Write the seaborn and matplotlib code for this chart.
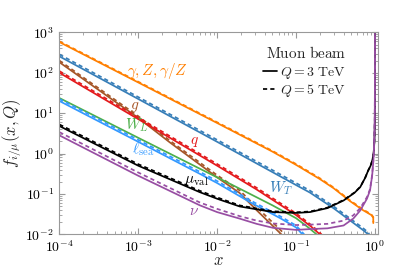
import matplotlib
matplotlib.use("Agg")
import matplotlib.pyplot as plt
from matplotlib.lines import Line2D
import seaborn as sns

# --- values (x, f for Q = 3 TeV solid, Q = 5 TeV dashed) ---
x_gam = [1e-4, 1e-3, 1e-2, 0.05, 0.1, 0.2, 0.3, 0.48, 0.7, 0.9, 0.95, 0.952]
f_gam_3 = [575, 57.5, 5.7, 1.12, 0.525, 0.234, 0.138, 0.067, 0.040, 0.030, 0.0259, 0.019]
f_gam_5 = [600, 60, 5.95, 1.17, 0.55, 0.245, 0.144, 0.070, 0.042, 0.031, 0.027, 0.020]

x_wt = [1e-4, 1e-3, 1e-2, 0.1, 0.15, 0.3, 0.5, 0.7, 0.82, 0.9]
f_wt_3 = [255, 22.4, 1.95, 0.166, 0.108, 0.044, 0.021, 0.0129, 0.0100, 0.0071]
f_wt_5 = [285, 25, 2.18, 0.186, 0.121, 0.049, 0.0235, 0.0144, 0.0112, 0.0079]

x_g = [1e-4, 1e-3, 2.5e-3, 1e-2, 0.0193, 0.03, 0.05, 0.065, 0.08]
f_g_3 = [182, 7.6, 1.9, 0.257, 0.105, 0.0437, 0.0166, 0.0100, 0.0063]
f_g_5 = [200, 8.4, 2.1, 0.29, 0.122, 0.052, 0.020, 0.0122, 0.0077]

x_q = [1e-4, 1e-3, 1e-2, 0.0316, 0.1, 0.158, 0.2, 0.25]
f_q_3 = [100, 7.1, 0.50, 0.129, 0.030, 0.0151, 0.0100, 0.0063]
f_q_5 = [110, 7.8, 0.55, 0.142, 0.033, 0.0166, 0.0110, 0.0069]

x_wl = [1e-4, 1e-3, 1e-2, 0.0193, 0.05, 0.1, 0.141, 0.182, 0.224]
f_wl = [23.7, 2.45, 0.257, 0.135, 0.0525, 0.0251, 0.0151, 0.0100, 0.0063]

x_sea = [1e-4, 1e-3, 6e-3, 1e-2, 0.0259, 0.063, 0.1, 0.12, 0.141]
f_sea_3 = [20, 1.95, 0.316, 0.186, 0.063, 0.0251, 0.0148, 0.0100, 0.0071]
f_sea_5 = [22.4, 2.18, 0.354, 0.208, 0.0705, 0.028, 0.0165, 0.0112, 0.0079]

x_val = [1e-4, 1e-3, 6e-3, 1e-2, 0.0193, 0.051, 0.1, 0.15, 0.25, 0.4, 0.55, 0.65,
         0.75, 0.82, 0.88, 0.925, 0.95, 0.97, 0.985, 0.995, 0.999, 0.9999, 0.99999]
f_val_3 = [4.8, 0.50, 0.111, 0.076, 0.049, 0.0356, 0.0339, 0.0356, 0.0447, 0.069, 0.107, 0.148,
           0.25, 0.38, 0.50, 0.68, 0.89, 1.26, 2.2, 5.6, 25, 316, 3160]
f_val_5 = [5.25, 0.545, 0.12, 0.082, 0.052, 0.0372, 0.0352, 0.0368, 0.046, 0.071, 0.109, 0.15,
           0.25, 0.38, 0.50, 0.68, 0.89, 1.26, 2.2, 5.6, 25, 316, 3160]

x_nu = [1e-4, 1e-3, 6e-3, 1e-2, 0.0193, 0.0316, 0.051, 0.1, 0.15, 0.25, 0.4, 0.53,
        0.65, 0.79, 0.865, 0.92, 0.955, 0.97, 0.985, 0.993, 0.997, 0.999, 0.9997]
f_nu_3 = [2.82, 0.282, 0.0525, 0.0355, 0.0245, 0.0182, 0.0145, 0.0129, 0.0135, 0.0141, 0.0166, 0.0245,
          0.039, 0.076, 0.123, 0.28, 0.68, 1.26, 3.16, 7.9, 31.6, 251, 1585]
f_nu_5 = [3.39, 0.339, 0.0617, 0.0427, 0.0282, 0.0219, 0.0186, 0.0170, 0.0174, 0.0182, 0.0219, 0.0295,
          0.0447, 0.083, 0.132, 0.295, 0.71, 1.3, 3.2, 8.0, 32, 251, 1585]

tick_exp_x = [-4, -3, -2, -1, 0]
tick_exp_y = [-2, -1, 0, 1, 2, 3]

sns.set_theme(style="ticks")
plt.rcParams["mathtext.fontset"] = "cm"

pal = sns.color_palette("Set1")
c_red, c_blue, c_green, c_purple, c_orange, _, c_brown = pal[:7]
c_sea = "#3399FF"

fig = plt.figure(figsize=(3.99, 2.70), dpi=100)
ax = fig.add_axes([0.149, 0.132, 0.799, 0.748])
ax.set_xscale("log")
ax.set_yscale("log")

dash = (0, (2.4, 1.8))
lw = 1.25


def pair(x, f3, f5, color):
    sns.lineplot(x=x, y=f3, ax=ax, color=color, lw=lw, sort=False, estimator=None)
    if f5 is not None:
        sns.lineplot(x=x, y=f5, ax=ax, color=color, lw=lw, linestyle=dash,
                     sort=False, estimator=None)


pair(x_gam, f_gam_3, f_gam_5, c_orange)
pair(x_wt, f_wt_3, f_wt_5, c_blue)
pair(x_g, f_g_3, f_g_5, c_brown)
pair(x_q, f_q_3, f_q_5, c_red)
pair(x_wl, f_wl, None, c_green)
pair(x_sea, f_sea_3, f_sea_5, c_sea)
pair(x_val, f_val_3, f_val_5, "black")
pair(x_nu, f_nu_3, f_nu_5, c_purple)

ax.set_xlim(1e-4, 1.1)
ax.set_ylim(1e-2, 1e3)

# curve labels
lab_kw = dict(ha="center", va="center", fontsize=11)
ax.text(1.72e-3, 110, r"$\gamma, Z, \gamma/Z$", color=c_orange, **lab_kw)
ax.text(9.1e-4, 15, r"$g$", color=c_brown, **lab_kw)
ax.text(9.4e-4, 5.1, r"$W_L$", color=c_green, **lab_kw)
ax.text(1.15e-3, 1.25, r"$\ell_{\rm sea}$", color=c_sea, **lab_kw)
ax.text(5.2e-3, 2.04, r"$q$", color=c_red, **lab_kw)
ax.text(5.4e-3, 0.21, r"$\mu_{\rm val}$", color="black", **lab_kw)
ax.text(5.1e-3, 0.04, r"$\nu$", color=c_purple, **lab_kw)
ax.text(0.064, 0.14, r"$W_T$", color=c_blue, **lab_kw)

# ticks / frame
ax.set_xticks([10.0 ** e for e in tick_exp_x], [r"$10^{%d}$" % e for e in tick_exp_x])
ax.set_yticks([10.0 ** e for e in tick_exp_y], [r"$10^{%d}$" % e for e in tick_exp_y])
ax.tick_params(which="both", direction="in", top=True, right=True,
               color="#999999", labelsize=10, labelcolor="black")
ax.tick_params(which="major", length=4, width=0.8, pad=4)
ax.tick_params(axis="x", which="major", pad=3.5)
ax.tick_params(which="minor", length=2, width=0.6)
for s in ax.spines.values():
    s.set_color("#999999")
    s.set_linewidth(0.8)

ax.set_xlabel(r"$x$", fontsize=12, va="center")
ax.set_ylabel(r"$f_{i/\mu}(x,Q)$", fontsize=12)
ax.xaxis.set_label_coords(0.5, -0.128)
ax.yaxis.set_label_coords(-0.111, 0.5)

# legend: title as its own text, two line entries below it
ax.text(0.773, 0.898, r"$\mathrm{Muon\ beam}$", transform=ax.transAxes,
        ha="center", va="center", fontsize=11)
handles = [Line2D([], [], color="black", lw=lw),
           Line2D([], [], color="black", lw=lw, linestyle=dash)]
ax.legend(handles, [r"$Q = 3\ \mathrm{TeV}$", r"$Q = 5\ \mathrm{TeV}$"],
          frameon=False, loc="upper right", bbox_to_anchor=(0.9, 0.84),
          fontsize=10, handlelength=1.0, handletextpad=0.25, labelspacing=0.1,
          borderpad=0.0, borderaxespad=0.0)

fig.savefig("out.png", dpi=100)
